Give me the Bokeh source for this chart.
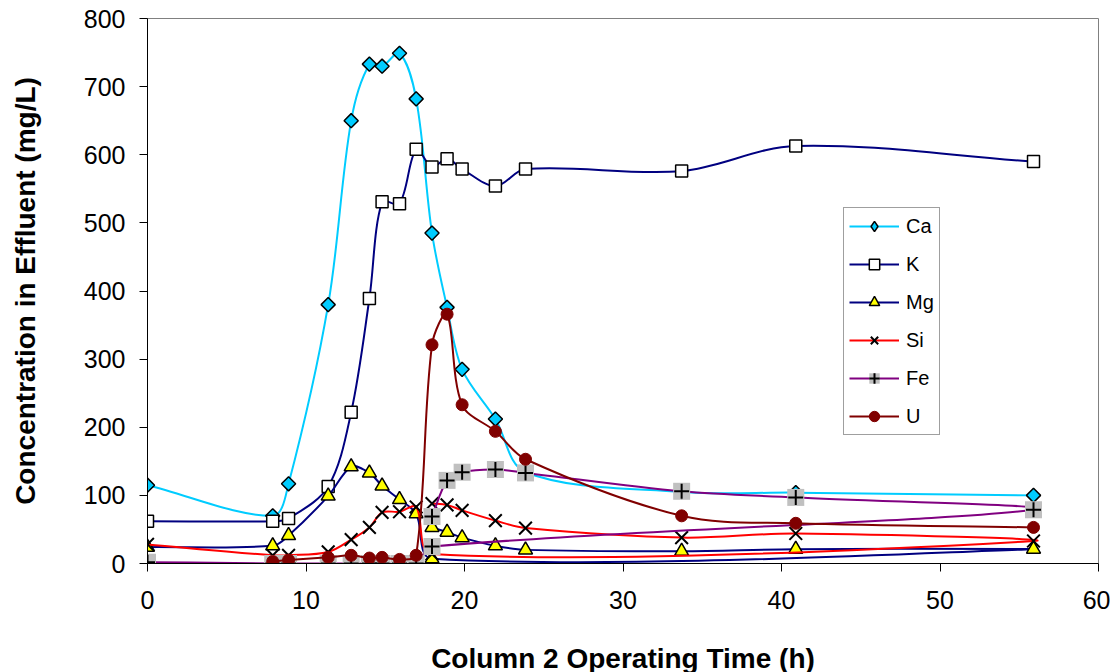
import numpy as np
from bokeh.plotting import figure
from bokeh.models import Legend, LegendItem, Range1d, FixedTicker
from bokeh.embed import file_html
from bokeh.resources import INLINE

# ---------------- data ----------------
# main sampling times (h)
t_main = [0, 7.9, 8.9, 11.4, 12.85, 14.0, 14.8, 15.9, 16.95, 17.95, 18.9, 19.85, 21.95, 23.85, 33.7, 40.9, 55.9]
ca = [115, 70, 117, 380, 650, 733, 730, 749, 682, 485, 376, 285, 212, 134, 105, 104, 100]
k = [62, 62, 66, 113, 222, 389, 531, 528, 608, 582, 594, 579, 554, 579, 576, 613, 590]

# U starts at 7.9 h
t_u = [7.9, 8.9, 11.4, 12.85, 14.0, 14.8, 15.9, 16.95, 17.95, 18.9, 19.85, 21.95, 23.85, 33.7, 40.9, 55.9]
u = [3, 5, 9, 12, 8, 9, 6, 12, 321, 366, 233, 194, 153, 70, 59, 53]

# Mg, Si, Fe: points listed in the order the original series connects them
t_mix = [0, 7.9, 8.9, 11.4, 12.85, 14.0, 14.8, 15.9, 16.95, 17.95, 55.9, 40.9, 33.7, 23.85, 21.95, 19.85, 18.9, 17.95]
mg = [24, 26, 41, 99, 142, 133, 114, 94, 73, 7, 21, 21, 18, 20, 26, 38, 46, 53]
si = [28, 12, 12, 17, 35, 53, 75, 76, 83, 14, 33, 44, 38, 52, 63, 78, 86, 88]
fe = [2, 0, 0, 0, 0, 0, 0, 0, 0, 25, 79, 97, 106, 133, 138, 134, 122, 69]

x_ticks = [0, 10, 20, 30, 40, 50, 60]
y_ticks = [0, 100, 200, 300, 400, 500, 600, 700, 800]

FONT = "Liberation Sans"
FRAME_W, FRAME_H = 951, 545
X_MAX, Y_MAX = 60.0, 800.0


def smooth_segments(xs, ys):
    """Bezier control points of a smoothed line (tangents scaled by segment lengths)."""
    kx, ky = FRAME_W / X_MAX, FRAME_H / Y_MAX
    xs = np.asarray(xs, float)
    ys = np.asarray(ys, float)
    xp = np.concatenate([[xs[0]], xs, [xs[-1]]])
    yp = np.concatenate([[ys[0]], ys, [ys[-1]]])

    def dist(i, j):
        return np.hypot((xp[j] - xp[i]) * kx, (yp[j] - yp[i]) * ky)

    n = len(xs)
    d = dict(x0=[], y0=[], x1=[], y1=[], cx0=[], cy0=[], cx1=[], cy1=[])
    for i in range(n - 1):
        a, b, c, e = i, i + 1, i + 2, i + 3
        d01, d12, d23 = dist(a, b), dist(b, c), dist(c, e)
        s0 = d12 / (d01 + d12) / 3.0 if d01 + d12 > 0 else 0.0
        s1 = d12 / (d12 + d23) / 3.0 if d12 + d23 > 0 else 0.0
        d["x0"].append(xp[b]); d["y0"].append(yp[b])
        d["x1"].append(xp[c]); d["y1"].append(yp[c])
        d["cx0"].append(xp[b] + (xp[c] - xp[a]) * s0)
        d["cy0"].append(yp[b] + (yp[c] - yp[a]) * s0)
        d["cx1"].append(xp[c] - (xp[e] - xp[b]) * s1)
        d["cy1"].append(yp[c] - (yp[e] - yp[b]) * s1)
    return d


p = figure(
    width=1110, height=672,
    frame_width=FRAME_W, frame_height=FRAME_H,
    min_border_left=147, min_border_right=12, min_border_top=18, min_border_bottom=109,
    x_range=Range1d(0, X_MAX), y_range=Range1d(0, Y_MAX),
    output_backend="svg", toolbar_location=None,
)
p.background_fill_color = "white"
p.border_fill_color = "white"
p.outline_line_color = "#808080"
p.outline_line_width = 1
p.xgrid.visible = False
p.ygrid.visible = False

for ax in (p.xaxis[0], p.yaxis[0]):
    ax.axis_line_color = "black"
    ax.axis_line_width = 1
    ax.major_tick_line_color = "black"
    ax.major_tick_out = 8
    ax.major_tick_in = 0
    ax.minor_tick_line_color = None
    ax.major_label_text_font = FONT
    ax.major_label_text_font_size = "25px"
    ax.major_label_text_color = "black"
    ax.axis_label_text_font = FONT
    ax.axis_label_text_font_size = "28px"
    ax.axis_label_text_font_style = "bold"
    ax.axis_label_text_color = "black"

p.xaxis[0].ticker = FixedTicker(ticks=x_ticks)
p.yaxis[0].ticker = FixedTicker(ticks=y_ticks)
p.xaxis[0].major_label_standoff = 19
p.yaxis[0].major_label_standoff = 14
p.xaxis[0].axis_label = "Column 2 Operating Time (h)"
p.yaxis[0].axis_label = "Concentration in Effluent (mg/L)"
p.xaxis[0].axis_label_standoff = 31
p.yaxis[0].axis_label_standoff = 40

items = []


def add_series(name, xs, ys, color, markers, legend_marker=None):
    d = smooth_segments(xs, ys)
    p.bezier(x0=d["x0"], y0=d["y0"], x1=d["x1"], y1=d["y1"],
             cx0=d["cx0"], cy0=d["cy0"], cx1=d["cx1"], cy1=d["cy1"],
             line_color=color, line_width=2)
    # a one-point line draws nothing on the plot but gives the legend its line sample
    leg = [p.line(x=xs[:1], y=ys[:1], line_color=color, line_width=2)]
    for m in markers:
        r = p.scatter(x=xs, y=ys, **m)
        if legend_marker is None:
            leg.append(r)
    if legend_marker is not None:
        # legend-only sample (not placed on the plot)
        leg.append(p.scatter(x=[np.nan], y=[np.nan], **legend_marker))
    items.append(LegendItem(label=name, renderers=leg))


add_series("Ca", t_main, ca, "#00CCFF",
           [dict(marker="square", angle=np.pi / 4, size=10, fill_color="#00CCFF",
                 line_color="black", line_width=1.5)],
           legend_marker=dict(marker="diamond", size=12, fill_color="#00CCFF",
                              line_color="black", line_width=1.5))
add_series("K", t_main, k, "#000080",
           [dict(marker="square", size=12, fill_color="white",
                 line_color="black", line_width=1.5)])
add_series("Mg", t_mix, mg, "#000080",
           [dict(marker="triangle", size=14, fill_color="#FFFF00",
                 line_color="black", line_width=1.5)])
add_series("Si", t_mix, si, "#FF0000",
           [dict(marker="x", size=18, line_color="black", line_width=2)])
add_series("Fe", t_mix, fe, "#800080",
           [dict(marker="square", size=17, fill_color="#C0C0C0", line_color=None),
            dict(marker="cross", size=15, line_color="black", line_width=2)])
add_series("U", t_u, u, "#800000",
           [dict(marker="circle", size=12, fill_color="#800000", line_color="#800000")])

legend = Legend(items=items, location=(696, 128))
legend.label_text_font = FONT
legend.label_text_font_size = "20px"
legend.label_text_color = "black"
legend.glyph_width = 50
legend.glyph_height = 26
legend.label_height = 26
legend.spacing = 12
legend.padding = 5
legend.margin = 0
legend.label_standoff = 7
legend.border_line_color = "#404040"
legend.border_line_width = 1
legend.background_fill_color = "white"
legend.background_fill_alpha = 1
p.add_layout(legend, "center")

open("out.html", "w").write(file_html(p, INLINE))
